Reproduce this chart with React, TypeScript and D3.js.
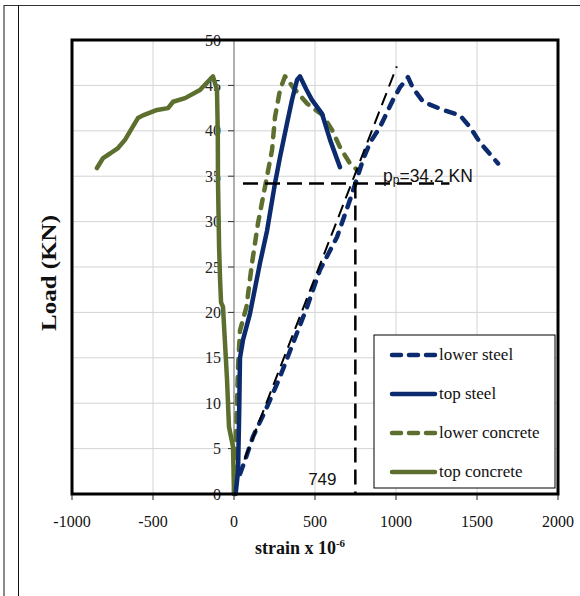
import React from "react";
import * as d3 from "d3";

// Load vs. strain readings (strain in microstrain, load in kN)
const lowerSteel: [number, number][] = [
  [37, 2.2], [68, 3.7], [117, 6.3], [204, 9.6], [284, 12.9], [364, 16.6],
  [451, 20.6], [531, 24.7], [636, 28.3], [716, 32.4], [749, 34.2], [796, 36.8],
  [840, 38.7], [901, 40.4], [981, 43.4], [1025, 44.8], [1074, 45.9], [1105, 44.7],
  [1167, 43.2], [1290, 42.3], [1395, 41.7], [1457, 40.4], [1519, 38.7], [1630, 36.4],
];
const topSteel: [number, number][] = [
  [10, 0], [25, 2.5], [32, 9], [37, 15], [56, 17], [99, 19.9], [160, 25.4],
  [204, 29], [253, 34.2], [284, 37.1], [327, 40.8], [358, 43.4], [389, 45.6],
  [407, 46], [445, 44.6], [481, 43.4], [543, 41.9], [593, 39], [654, 36],
];
const lowerConcrete: [number, number][] = [
  [0, 0], [12, 6], [20, 11], [25, 14], [37, 18], [77, 20.6], [111, 25.4],
  [148, 29.8], [204, 35], [235, 37.9], [253, 41.5], [284, 44.5], [315, 46],
  [364, 44.8], [451, 43], [549, 41.7], [605, 40.1], [654, 38.2], [716, 36.4], [759, 35.7],
];
const topConcrete: [number, number][] = [
  [0, 0], [-6, 5.2], [-31, 7.4], [-43, 12.6], [-68, 20.6], [-80, 21.1],
  [-86, 23.6], [-92, 27.2], [-99, 34.6], [-100, 39.7], [-105, 44.5], [-130, 46],
  [-210, 44.5], [-302, 43.6], [-376, 43.2], [-407, 42.5], [-475, 42.3],
  [-562, 41.7], [-593, 41.4], [-630, 40.3], [-673, 39], [-716, 38.1],
  [-765, 37.5], [-808, 37], [-846, 35.9],
];

// Secant line and the proportional-limit marker
const secantLine: [number, number][] = [[65, 3.8], [1005, 47.1]];
const limitStrain = 749;
const limitLoad = 34.2;

const xTicks = [-1000, -500, 0, 500, 1000, 1500, 2000];
const yTicks = [0, 5, 10, 15, 20, 25, 30, 35, 40, 45, 50];

const seriesNames = ["lower steel", "top steel", "lower concrete", "top concrete"];

const NAVY = "#0c2b6e";
const GREEN = "#5c6f2e";

export default function App() {
  const left = 72, right = 558, top = 40, bottom = 494;
  const x = d3.scaleLinear().domain([-1000, 2000]).range([left, right]);
  const y = d3.scaleLinear().domain([0, 50]).range([bottom, top]);
  const line = d3.line<[number, number]>().x((d) => x(d[0])).y((d) => y(d[1]));

  const serif = "'Liberation Serif', 'Times New Roman', serif";
  const sans = "'Liberation Sans', Arial, sans-serif";

  const styles = [
    { color: NAVY, dash: "9,9" },
    { color: NAVY, dash: undefined },
    { color: GREEN, dash: "9,9" },
    { color: GREEN, dash: undefined },
  ];
  const data = [lowerSteel, topSteel, lowerConcrete, topConcrete];
  const drawOrder = [3, 2, 1, 0];

  const legX = 374, legY = 335, legW = 181, legH = 153;
  const legRows = [355, 394, 433, 472];

  return (
    <svg
      width={580}
      height={596}
      style={{ position: "absolute", left: 0, top: 0, background: "#fff" }}
    >
      {/* outer frame */}
      <line x1={4} y1={5} x2={4} y2={596} stroke="#8a8a8a" strokeWidth={2} />
      <line x1={4} y1={5.5} x2={580} y2={5.5} stroke="#333" strokeWidth={1.2} />
      <line x1={18.5} y1={5} x2={18.5} y2={596} stroke="#111" strokeWidth={1} />

      {/* grid */}
      {xTicks.map((t) => (
        <line key={"gx" + t} x1={x(t)} x2={x(t)} y1={top} y2={bottom} stroke="#d4d4d4" strokeWidth={1} />
      ))}
      {yTicks.map((t) => (
        <line key={"gy" + t} x1={left} x2={right} y1={y(t)} y2={y(t)} stroke="#d4d4d4" strokeWidth={1} />
      ))}

      {/* vertical axis at zero strain */}
      <line x1={x(0)} x2={x(0)} y1={top} y2={bottom} stroke="#777" strokeWidth={1} />
      {yTicks.map((t) => (
        <g key={"yt" + t}>
          <line x1={x(0) - 6} x2={x(0)} y1={y(t)} y2={y(t)} stroke="#333" strokeWidth={1} />
          <text
            x={x(0) - 13}
            y={y(t)}
            dy="0.35em"
            textAnchor="end"
            fontFamily={serif}
            fontSize={16}
            fill="#222"
          >
            {t}
          </text>
        </g>
      ))}

      {/* x ticks */}
      {xTicks.map((t) => (
        <g key={"xt" + t}>
          <line x1={x(t)} x2={x(t)} y1={bottom} y2={bottom + 6} stroke="#222" strokeWidth={1} />
          <text x={x(t)} y={527} textAnchor="middle" fontFamily={serif} fontSize={16} fill="#111">
            {t}
          </text>
        </g>
      ))}

      {/* series */}
      {drawOrder.map((i) => (
        <path
          key={"s" + i}
          d={line(data[i]) || ""}
          fill="none"
          stroke={styles[i].color}
          strokeWidth={4.5}
          strokeDasharray={styles[i].dash}
          strokeLinecap="round"
          strokeLinejoin="round"
        />
      ))}

      {/* secant and proportional-limit guides */}
      <path d={line(secantLine) || ""} fill="none" stroke="#000" strokeWidth={2} strokeDasharray="13,7" />
      <line
        x1={x(0) + 9}
        x2={x(1330)}
        y1={y(limitLoad)}
        y2={y(limitLoad)}
        stroke="#000"
        strokeWidth={2.5}
        strokeDasharray="15,7"
      />
      <line
        x1={x(limitStrain)}
        x2={x(limitStrain)}
        y1={y(limitLoad)}
        y2={bottom}
        stroke="#000"
        strokeWidth={2.5}
        strokeDasharray="15,7"
      />
      <text x={383} y={182} fontFamily={sans} fontSize={17.5} fill="#111">
        p
        <tspan fontSize={12} dy={2}>p</tspan>
        <tspan dy={-2}>=34.2 KN</tspan>
      </text>
      <text x={x(limitStrain) - 33} y={485} textAnchor="middle" fontFamily={sans} fontSize={17} fill="#111">
        {limitStrain}
      </text>

      {/* plot border */}
      <rect x={left} y={top} width={right - left} height={bottom - top} fill="none" stroke="#000" strokeWidth={3} />

      {/* legend */}
      <rect x={legX} y={legY} width={legW} height={legH} fill="#fff" stroke="#000" strokeWidth={1} />
      {seriesNames.map((name, i) => (
        <g key={"lg" + i}>
          <line
            x1={392}
            x2={435}
            y1={legRows[i]}
            y2={legRows[i]}
            stroke={styles[i].color}
            strokeWidth={4.5}
            strokeDasharray={styles[i].dash ? "9,8" : undefined}
            strokeLinecap="round"
          />
          <text x={439} y={legRows[i]} dy="0.32em" fontFamily={serif} fontSize={17} fill="#111">
            {name}
          </text>
        </g>
      ))}

      {/* axis titles */}
      <text
        transform="translate(56,273) rotate(-90)"
        textAnchor="middle"
        fontFamily={serif}
        fontSize={20}
        fontWeight="bold"
        fill="#111"
        textLength={116}
        lengthAdjust="spacingAndGlyphs"
      >
        Load (KN)
      </text>
      <text x={300} y={554} textAnchor="middle" fontFamily={serif} fontSize={18} fontWeight="bold" fill="#111">
        strain x 10
        <tspan fontSize={11} dy={-7}>-6</tspan>
      </text>
    </svg>
  );
}
